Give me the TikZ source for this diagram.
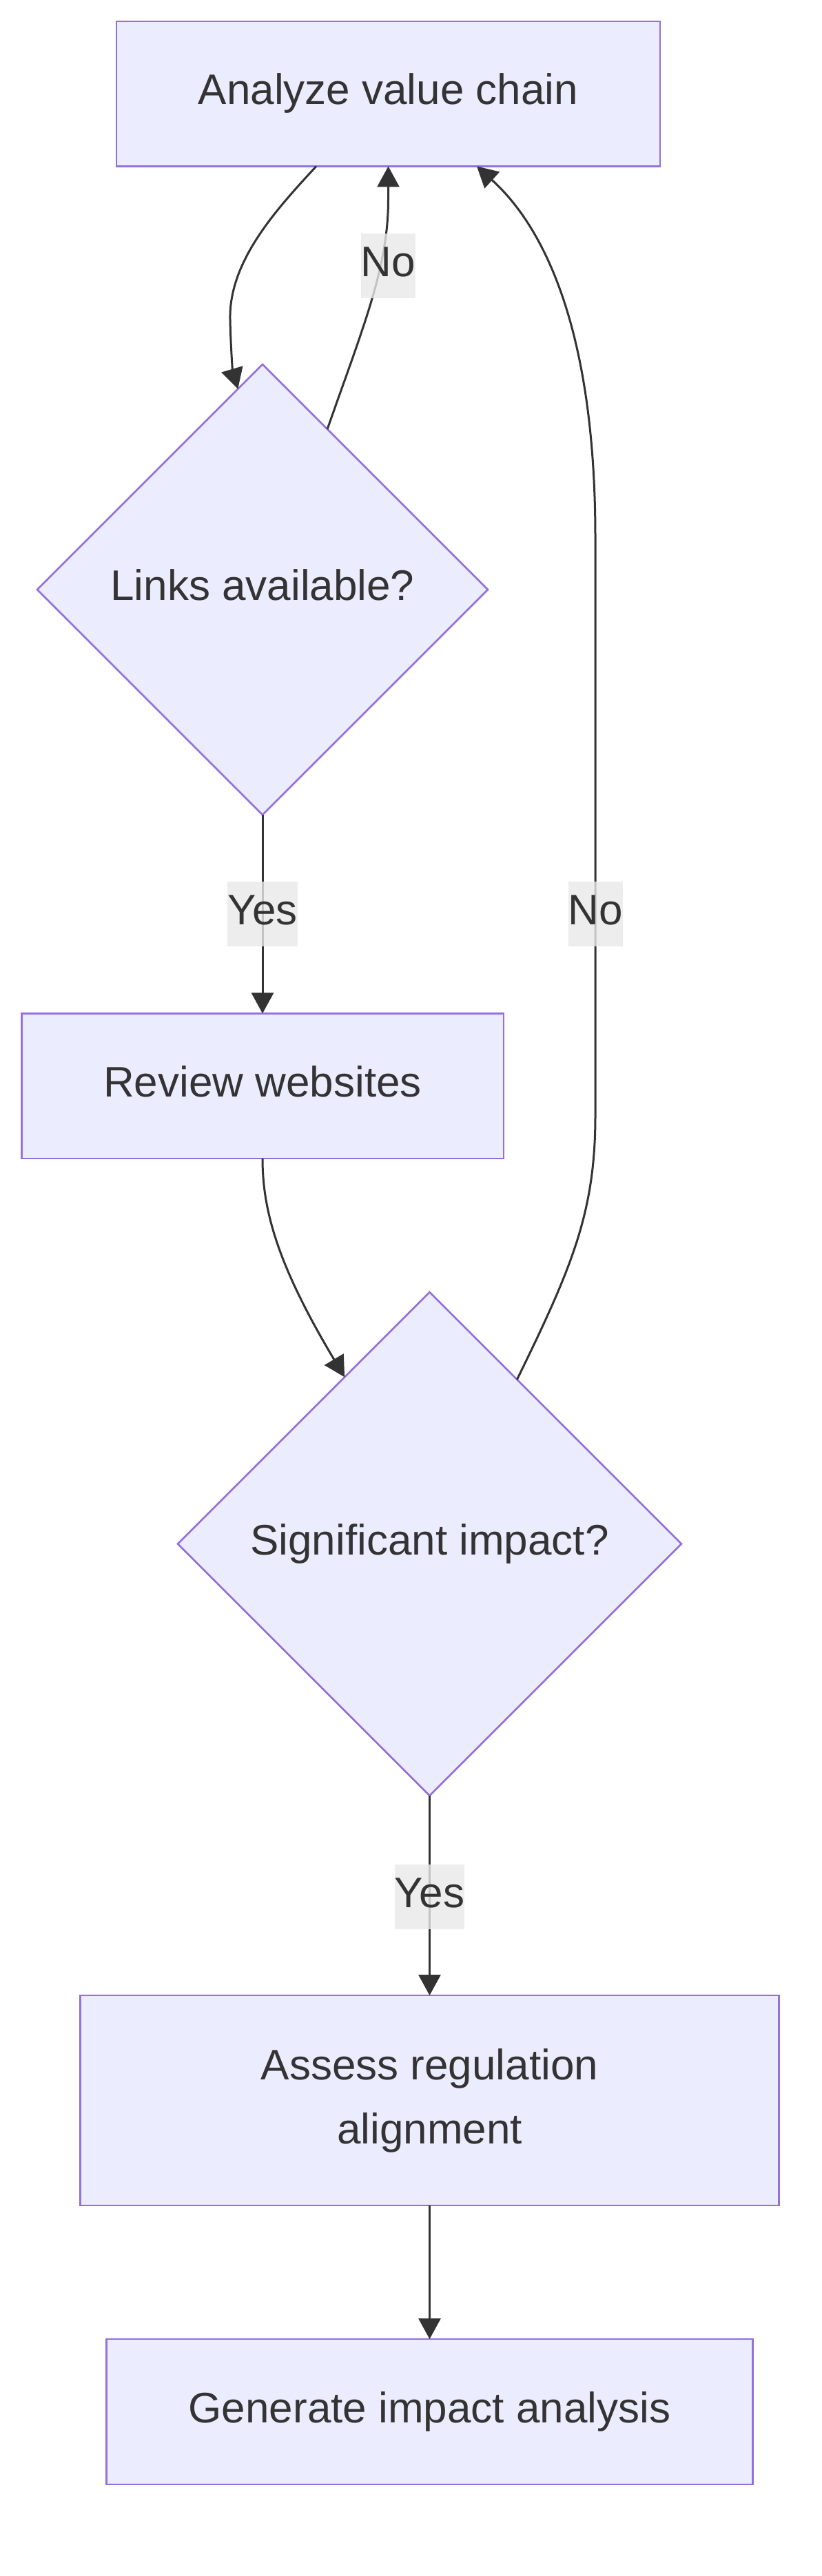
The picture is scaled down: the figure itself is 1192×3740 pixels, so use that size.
\documentclass[tikz,border=0pt]{standalone}
\usepackage{fontspec}
\setmainfont{Liberation Sans}
\usetikzlibrary{shapes.geometric,arrows.meta}
\definecolor{nodefill}{HTML}{ECECFF}
\definecolor{nodeborder}{HTML}{9370DB}
\definecolor{edgecol}{HTML}{333333}
\definecolor{txtcol}{HTML}{333333}
\definecolor{labelbg}{HTML}{E8E8E8}
\begin{document}
\begin{tikzpicture}[x=1pt,y=-1pt,
  every node/.style={font=\fontsize{62pt}{93pt}\selectfont, text=txtcol, text height=46.5pt, text depth=15.5pt},
  box/.style={draw=nodeborder, fill=nodefill, line width=2.6pt, inner sep=0pt, outer sep=0pt, align=center},
  dia/.style={diamond, aspect=1, draw=nodeborder, fill=nodefill, line width=2.6pt, inner sep=0pt, outer sep=0pt},
  edge/.style={draw=edgecol, line width=3pt, -{Triangle[length=30pt,width=32pt]}},
  lbl/.style={fill=labelbg, fill opacity=0.8, text opacity=1, inner xsep=0pt, inner ysep=0pt, minimum height=94pt}
]
\useasboundingbox (0,0) rectangle (1192,3740);

\node[box, minimum width=789pt, minimum height=210.5pt] (a) at (563.5,136.2) {Analyze value chain};
\node[dia, minimum width=654pt, minimum height=654pt] (b) at (381,856) {Links available?};
\node[box, minimum width=699.6pt, minimum height=210.5pt] (c) at (381,1576.7) {Review websites};
\node[dia, minimum width=731pt, minimum height=731pt] (d) at (623.5,2241.5) {Significant impact?};
\node[box, minimum width=1014pt, minimum height=305pt, text height=141.7pt] (e) at (623.5,3049.5) {Assess regulation\\alignment};
\node[box, minimum width=938pt, minimum height=211pt] (f) at (623.5,3501.5) {Generate impact analysis};

% Analyze -> Links
\draw[edge] ([xshift=-104.5pt]a.south) .. controls (400,305) and (332,380) .. (334,464)
  .. controls (335,510) and (338,540) .. (b.97.7);
% Links -> Analyze (No)
\draw[edge] (b.68.8) .. controls (525,480) and (563.5,390) .. (563.5,290) -- (a.south);
% Links -> Review (Yes)
\draw[edge] (b.south) -- (c.north);
% Review -> Significant
\draw[edge] (c.south) .. controls (381,1760) and (405,1840) .. (d.117.7);
% Significant -> Analyze (No)
\draw[edge] (d.62.4) .. controls (830,1840) and (864,1760) .. (864,1620) -- (864,780)
  .. controls (864,480) and (790,330) .. ([xshift=128.5pt]a.south);
% Significant -> Assess (Yes)
\draw[edge] (d.south) -- (e.north);
% Assess -> Generate
\draw[edge] (e.south) -- (f.north);

\node[lbl] (l1) at (563.3,385.5) {No};
\node[lbl] (l2) at (381,1327) {Yes};
\node[lbl] (l3) at (864.3,1327) {No};
\node[lbl] (l4) at (623.5,2754) {Yes};
\end{tikzpicture}
\end{document}
